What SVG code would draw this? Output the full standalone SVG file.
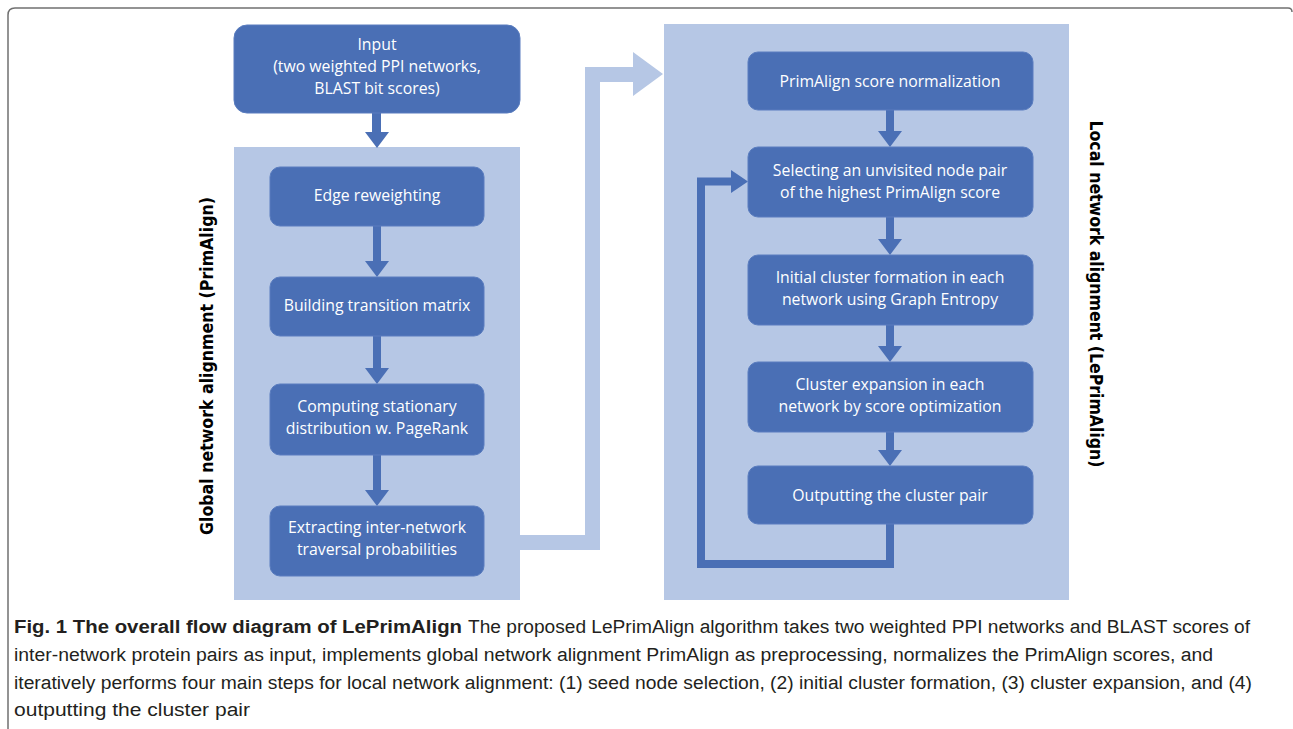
<svg xmlns="http://www.w3.org/2000/svg" width="1293" height="729" viewBox="0 0 1293 729">
<defs>
<style>
.panel{fill:#b6c7e5}
.node{fill:#4a6fb5;stroke:#5a7dbf;stroke-width:1}
.nt{font-family:"Open Sans","Noto Sans",sans-serif;font-size:15.8px;fill:#ffffff;text-anchor:middle}
.side{font-family:"DejaVu Sans",sans-serif;font-weight:bold;font-size:18px;fill:#000;text-anchor:middle}
.cap{font-family:"Liberation Sans",sans-serif;font-size:18px;fill:#231f20}
.capb{font-family:"Liberation Sans",sans-serif;font-size:18px;font-weight:bold;fill:#231f20}
.arr{fill:#4a6fb5}
</style>
</defs>
<rect width="1293" height="729" fill="#ffffff"/>
<!-- frame -->
<path d="M8,729 V15 Q8,8 15,8 H1288 Q1292,8 1292,12" fill="none" stroke="#707070" stroke-width="1.5"/>

<!-- panels -->
<rect class="panel" x="234" y="147" width="286" height="453"/>
<rect class="panel" x="664" y="24" width="405" height="576"/>

<!-- connectors -->
<g id="connectors">
  <!-- big light arrow -->
  <polygon fill="#b6c7e5" points="520,535 585,535 585,67 633,67 633,52 663,74 633,96 633,82 600,82 600,550 520,550"/>
  <!-- input to panel -->
  <polygon class="arr" points="372,113 381,113 381,132 389,132 377,148 365,132 372,132"/>
  <!-- left arrows -->
  <polygon class="arr" points="373,226 381,226 381,261 389,261 377,277 365,261 373,261"/>
  <polygon class="arr" points="373,336 381,336 381,368 389,368 377,384 365,368 373,368"/>
  <polygon class="arr" points="373,455 381,455 381,490 389,490 377,506 365,490 373,490"/>
  <!-- right arrows -->
  <polygon class="arr" points="886,110 894,110 894,131 902,131 890,147 878,131 886,131"/>
  <polygon class="arr" points="886,217 894,217 894,239 902,239 890,255 878,239 886,239"/>
  <polygon class="arr" points="886,325 894,325 894,346 902,346 890,362 878,346 886,346"/>
  <polygon class="arr" points="886,432 894,432 894,450 902,450 890,466 878,450 886,450"/>
  <!-- loop -->
  <path d="M890,524 V564 H701 V181.5 H733" fill="none" stroke="#4a6fb5" stroke-width="8"/>
  <polygon class="arr" points="731,170 748,181.5 731,193"/>
</g>

<g id="input">
  <rect class="node" x="234" y="25" width="286" height="88" rx="13"/>
  <text class="nt" x="377" y="50">Input</text>
  <text class="nt" x="377" y="72">(two weighted PPI networks,</text>
  <text class="nt" x="377" y="94">BLAST bit scores)</text>
</g>

<g id="edge-reweighting">
  <rect class="node" x="270" y="167" width="214" height="59" rx="10"/>
  <text class="nt" x="377" y="201">Edge reweighting</text>
</g>
<g id="building">
  <rect class="node" x="270" y="277" width="214" height="59" rx="10"/>
  <text class="nt" x="377" y="311">Building transition matrix</text>
</g>
<g id="computing">
  <rect class="node" x="270" y="384" width="214" height="71" rx="10"/>
  <text class="nt" x="377" y="412">Computing stationary</text>
  <text class="nt" x="377" y="434">distribution w. PageRank</text>
</g>
<g id="extracting">
  <rect class="node" x="270" y="506" width="214" height="70" rx="10"/>
  <text class="nt" x="377" y="533">Extracting inter-network</text>
  <text class="nt" x="377" y="555">traversal probabilities</text>
</g>

<g id="normalization">
  <rect class="node" x="748" y="52" width="285" height="58" rx="10"/>
  <text class="nt" x="890" y="87">PrimAlign score normalization</text>
</g>
<g id="selecting">
  <rect class="node" x="748" y="147" width="285" height="70" rx="10"/>
  <text class="nt" x="890" y="176">Selecting an unvisited node pair</text>
  <text class="nt" x="890" y="198">of the highest PrimAlign score</text>
</g>
<g id="initial">
  <rect class="node" x="748" y="255" width="285" height="70" rx="10"/>
  <text class="nt" x="890" y="283">Initial cluster formation in each</text>
  <text class="nt" x="890" y="305">network using Graph Entropy</text>
</g>
<g id="expansion">
  <rect class="node" x="748" y="362" width="285" height="70" rx="10"/>
  <text class="nt" x="890" y="390">Cluster expansion in each</text>
  <text class="nt" x="890" y="412">network by score optimization</text>
</g>
<g id="outputting">
  <rect class="node" x="748" y="466" width="285" height="58" rx="10"/>
  <text class="nt" x="890" y="501">Outputting the cluster pair</text>
</g>

<g id="labels">
  <text class="side" transform="translate(213,366) rotate(-90)" textLength="338" lengthAdjust="spacingAndGlyphs">Global network alignment (PrimAlign)</text>
  <text class="side" transform="translate(1090,294) rotate(90)" textLength="347" lengthAdjust="spacingAndGlyphs">Local network alignment (LePrimAlign)</text>
</g>

<g id="caption">
  <text class="capb" x="14" y="633" textLength="448" lengthAdjust="spacingAndGlyphs">Fig. 1 The overall flow diagram of LePrimAlign</text>
  <text class="cap" x="468" y="633" textLength="782" lengthAdjust="spacingAndGlyphs">The proposed LePrimAlign algorithm takes two weighted PPI networks and BLAST scores of</text>
  <text class="cap" x="14" y="661" textLength="1199" lengthAdjust="spacingAndGlyphs">inter-network protein pairs as input, implements global network alignment PrimAlign as preprocessing, normalizes the PrimAlign scores, and</text>
  <text class="cap" x="14" y="689" textLength="1238" lengthAdjust="spacingAndGlyphs">iteratively performs four main steps for local network alignment: (1) seed node selection, (2) initial cluster formation, (3) cluster expansion, and (4)</text>
  <text class="cap" x="14" y="716" textLength="236" lengthAdjust="spacingAndGlyphs">outputting the cluster pair</text>
</g>
</svg>
